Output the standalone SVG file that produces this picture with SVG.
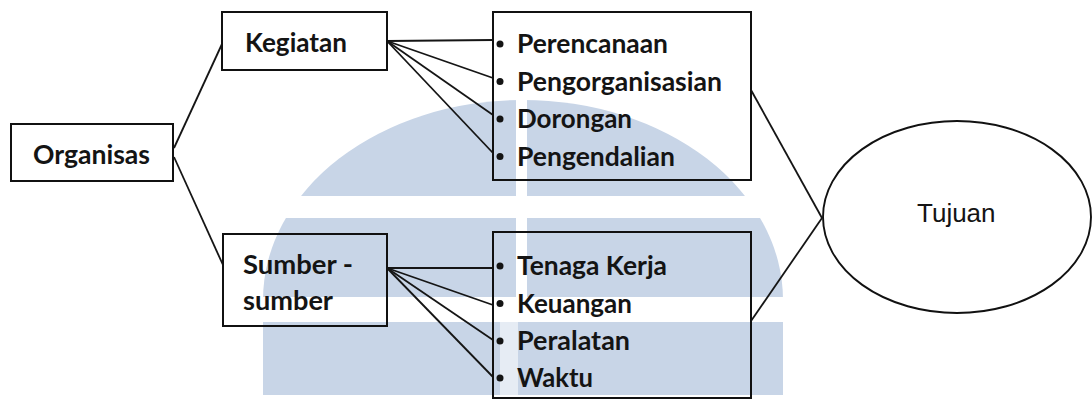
<svg xmlns="http://www.w3.org/2000/svg" width="1092" height="400" viewBox="0 0 1092 400">
  <style>
    .box { fill: none; stroke: #111; stroke-width: 2; }
    .oval { fill: none; stroke: #111; stroke-width: 1.9; }
    .link { fill: none; stroke: #151515; stroke-width: 1.8; }
    .lbl { font-family: Lato, "Open Sans", sans-serif; font-weight: bold; font-size: 26px; fill: #141414; }
    .goal { font-family: "Liberation Sans", Arial, sans-serif; font-size: 26px; fill: #141414; }
    .dot { fill: #141414; }
    .wm { fill: #c8d5e7; }
    .gap { fill: #ffffff; }
  </style>

  <rect width="1092" height="400" fill="#ffffff"/>

  <!-- background emblem: dome split by white bands -->
  <g id="watermark">
    <path class="wm" d="M263,300 A260,200 0 0 1 783,300 L783,395 L263,395 Z"/>
    <rect class="gap" x="200" y="196" width="650" height="22"/>
    <rect class="gap" x="200" y="297" width="650" height="25"/>
    <rect class="gap" x="516" y="95" width="11" height="202"/>
    <rect class="gap" x="500" y="322" width="18" height="73" opacity="0.55"/>
  </g>

  <!-- connectors -->
  <g id="connectors">
    <line class="link" x1="174" y1="148" x2="222" y2="44"/>
    <line class="link" x1="174" y1="157" x2="223" y2="265"/>

    <line class="link" x1="387" y1="41" x2="493" y2="40"/>
    <line class="link" x1="387" y1="41" x2="493" y2="78"/>
    <line class="link" x1="387" y1="41" x2="493" y2="115"/>
    <line class="link" x1="387" y1="41" x2="493" y2="153"/>

    <line class="link" x1="387" y1="268" x2="493" y2="268"/>
    <line class="link" x1="387" y1="268" x2="493" y2="305"/>
    <line class="link" x1="387" y1="268" x2="493" y2="340"/>
    <line class="link" x1="387" y1="268" x2="493" y2="377"/>

    <line class="link" x1="751" y1="90" x2="822" y2="218"/>
    <line class="link" x1="751" y1="321" x2="822" y2="218"/>
  </g>

  <g id="node-organisas">
    <rect class="box" x="11" y="124" width="162" height="57"/>
    <text class="lbl" x="33" y="164" textLength="117" lengthAdjust="spacingAndGlyphs">Organisas</text>
  </g>

  <g id="node-kegiatan">
    <rect class="box" x="222" y="12" width="165" height="58"/>
    <text class="lbl" x="245" y="52" textLength="102" lengthAdjust="spacingAndGlyphs">Kegiatan</text>
  </g>

  <g id="node-sumber">
    <rect class="box" x="223" y="234" width="164" height="92"/>
    <text class="lbl" x="243" y="274" textLength="110" lengthAdjust="spacingAndGlyphs">Sumber -</text>
    <text class="lbl" x="243" y="310" textLength="90" lengthAdjust="spacingAndGlyphs">sumber</text>
  </g>

  <g id="node-fungsi">
    <rect class="box" x="493" y="12" width="258" height="168"/>
    <circle class="dot" cx="500" cy="44" r="3.5"/>
    <text class="lbl" x="517" y="53" textLength="151" lengthAdjust="spacingAndGlyphs">Perencanaan</text>
    <circle class="dot" cx="500" cy="81.5" r="3.5"/>
    <text class="lbl" x="517" y="90.5" textLength="205" lengthAdjust="spacingAndGlyphs">Pengorganisasian</text>
    <circle class="dot" cx="500" cy="119" r="3.5"/>
    <text class="lbl" x="517" y="128" textLength="115" lengthAdjust="spacingAndGlyphs">Dorongan</text>
    <circle class="dot" cx="500" cy="156.5" r="3.5"/>
    <text class="lbl" x="517" y="165.5" textLength="158" lengthAdjust="spacingAndGlyphs">Pengendalian</text>
  </g>

  <g id="node-sumberdaya">
    <rect class="box" x="493" y="232" width="258" height="166"/>
    <circle class="dot" cx="500" cy="266" r="3.5"/>
    <text class="lbl" x="517" y="275" textLength="150" lengthAdjust="spacingAndGlyphs">Tenaga Kerja</text>
    <circle class="dot" cx="500" cy="303.5" r="3.5"/>
    <text class="lbl" x="517" y="312.5" textLength="115" lengthAdjust="spacingAndGlyphs">Keuangan</text>
    <circle class="dot" cx="500" cy="341" r="3.5"/>
    <text class="lbl" x="517" y="350" textLength="113" lengthAdjust="spacingAndGlyphs">Peralatan</text>
    <circle class="dot" cx="500" cy="378" r="3.5"/>
    <text class="lbl" x="517" y="387" textLength="76" lengthAdjust="spacingAndGlyphs">Waktu</text>
  </g>

  <g id="node-tujuan">
    <ellipse class="oval" cx="957" cy="217" rx="134" ry="96"/>
    <text class="goal" x="917" y="222">Tujuan</text>
  </g>
</svg>
